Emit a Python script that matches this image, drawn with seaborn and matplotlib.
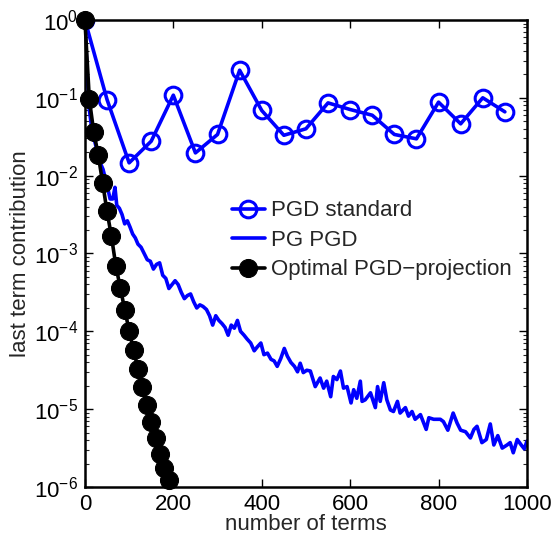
import numpy as np
import pandas as pd
import matplotlib
matplotlib.use("Agg")
import matplotlib.pyplot as plt
import seaborn as sns
from matplotlib.ticker import FixedLocator, NullFormatter, LogFormatterSciNotation

sns.set_style("ticks")
plt.rcParams["font.family"] = ["Liberation Sans", "DejaVu Sans"]
plt.rcParams["mathtext.fontset"] = "custom"
plt.rcParams["mathtext.rm"] = "Liberation Sans"
plt.rcParams["mathtext.it"] = "Liberation Sans:italic"
plt.rcParams["mathtext.bf"] = "Liberation Sans:bold"

# ---- data ----
std_terms = [0, 50, 100, 150, 200, 250, 300, 350, 400, 450, 500, 550, 600, 650,
             700, 750, 800, 850, 900, 950]
std_values = [1.0, 0.095, 0.0146, 0.0277, 0.108, 0.0196, 0.0338, 0.226, 0.0687,
              0.033, 0.040, 0.086, 0.0707, 0.0597, 0.0338, 0.0297, 0.0879, 0.0463,
              0.100, 0.066]

pg_terms = [0, 5, 10, 16, 24, 32, 41, 50, 57, 63, 68, 72, 78, 84, 90, 96, 102, 108,
            114, 120, 127, 134, 141, 148, 155, 162, 169, 176, 183, 190, 197, 204,
            211, 218, 225, 232, 239, 246, 253, 260, 267, 275, 282, 289, 296, 303,
            310, 317, 324, 331, 338, 345, 352, 360, 367, 375, 383, 390, 398, 405,
            413, 421, 428, 435, 443, 451, 458, 466, 474, 481, 487, 494, 502, 510,
            521, 532, 540, 547, 556, 562, 570, 578, 585, 593, 602, 608, 615, 623,
            627, 634, 646, 657, 662, 668, 676, 683, 691, 698, 707, 713, 725, 732,
            740, 747, 759, 772, 778, 789, 804, 811, 821, 833, 842, 850, 861, 872,
            880, 887, 898, 908, 917, 925, 934, 944, 955, 962, 969, 978, 987, 994,
            1000]
pg_log10 = [0, -0.7, -1.15, -1.42, -1.6, -1.8, -1.92, -2.12, -2.3, -2.3, -2.15,
            -2.38, -2.42, -2.5, -2.62, -2.58, -2.66, -2.75, -2.8, -2.88, -2.92,
            -3.0, -3.08, -3.1, -3.2, -3.14, -3.12, -3.28, -3.32, -3.45, -3.4, -3.35,
            -3.4, -3.5, -3.58, -3.54, -3.52, -3.62, -3.7, -3.66, -3.68, -3.72, -3.8,
            -3.92, -3.8, -3.86, -3.9, -3.95, -4.05, -3.92, -3.96, -3.86, -4.0, -4.05,
            -4.1, -4.15, -4.25, -4.2, -4.15, -4.3, -4.28, -4.36, -4.38, -4.45, -4.35,
            -4.22, -4.32, -4.4, -4.45, -4.52, -4.41, -4.53, -4.5, -4.51, -4.71, -4.60,
            -4.73, -4.64, -4.84, -4.58, -4.62, -4.51, -4.73, -4.71, -4.92, -4.75,
            -4.86, -4.64, -4.90, -4.88, -4.79, -4.98, -4.71, -4.90, -4.66, -4.88,
            -5.01, -5.03, -4.90, -5.05, -4.98, -5.09, -5.03, -5.13, -5.07, -5.26,
            -5.11, -5.13, -5.13, -5.16, -5.27, -5.05, -5.18, -5.27, -5.29, -5.37,
            -5.26, -5.22, -5.43, -5.39, -5.19, -5.46, -5.34, -5.50, -5.46, -5.43,
            -5.56, -5.39, -5.46, -5.51, -5.41]

opt_terms = [0, 10, 20, 30, 40, 50, 60, 70, 80, 90, 100, 110, 120, 130, 140, 150,
             160, 170, 180, 190]
opt_log10 = [0, -1.02, -1.44, -1.73, -2.09, -2.46, -2.78, -3.16, -3.44, -3.72, -3.99,
             -4.24, -4.48, -4.72, -4.95, -5.17, -5.37, -5.57, -5.76, -5.91]

labels = ["PGD standard", "PG PGD", "Optimal PGD\u2212projection"]
x_ticks = [0, 200, 400, 600, 800, 1000]
y_ticks = [1e-6, 1e-5, 1e-4, 1e-3, 1e-2, 1e-1, 1e0]

df_std = pd.DataFrame({"x": std_terms, "y": std_values})
df_pg = pd.DataFrame({"x": pg_terms, "y": 10.0 ** np.array(pg_log10)})
df_opt = pd.DataFrame({"x": opt_terms, "y": 10.0 ** np.array(opt_log10)})

# ---- figure ----
fig = plt.figure(figsize=(5.55, 5.45), dpi=100)
ax = fig.add_axes([0.153, 0.1064, 0.7965, 0.857])

blue = "#0000ff"
fs = 16
sns.lineplot(data=df_std, x="x", y="y", ax=ax, color=blue, linewidth=2.6,
             marker="o", markersize=12, markerfacecolor="none",
             markeredgecolor=blue, markeredgewidth=2.2, label=labels[0])
sns.lineplot(data=df_pg, x="x", y="y", ax=ax, color=blue, linewidth=2.6,
             label=labels[1])
sns.lineplot(data=df_opt, x="x", y="y", ax=ax, color="black", linewidth=2.6,
             marker="o", markersize=13, markerfacecolor="black",
             markeredgecolor="black", label=labels[2], clip_on=False, zorder=5)

ax.set_yscale("log")
ax.set_xlim(0, 1000)
ax.set_ylim(1e-6, 1e0)
ax.xaxis.set_major_locator(FixedLocator(x_ticks))
ax.yaxis.set_major_locator(FixedLocator(y_ticks))
ax.yaxis.set_major_formatter(LogFormatterSciNotation())
minor_y = [m * 10.0 ** e for e in range(-6, 0) for m in range(2, 10)]
ax.yaxis.set_minor_locator(FixedLocator(minor_y))
ax.yaxis.set_minor_formatter(NullFormatter())

for s in ax.spines.values():
    s.set_linewidth(1.8)
    s.set_color("black")
ax.tick_params(which="major", direction="in", length=6, width=1.0,
               top=True, right=True, labelsize=fs, pad=5, colors="black")
ax.tick_params(which="minor", direction="in", length=3, width=0.8,
               top=False, right=True, left=True)

ax.set_xlabel("number of terms", fontsize=fs, labelpad=-1)
ax.set_ylabel("last term contribution", fontsize=fs, labelpad=2)

leg = ax.legend(loc="center left", bbox_to_anchor=(0.297, 0.528), frameon=False,
                fontsize=fs, handlelength=1.5, handletextpad=0.25,
                labelspacing=0.38, borderpad=0.2)

fig.savefig("out.png", dpi=100)
